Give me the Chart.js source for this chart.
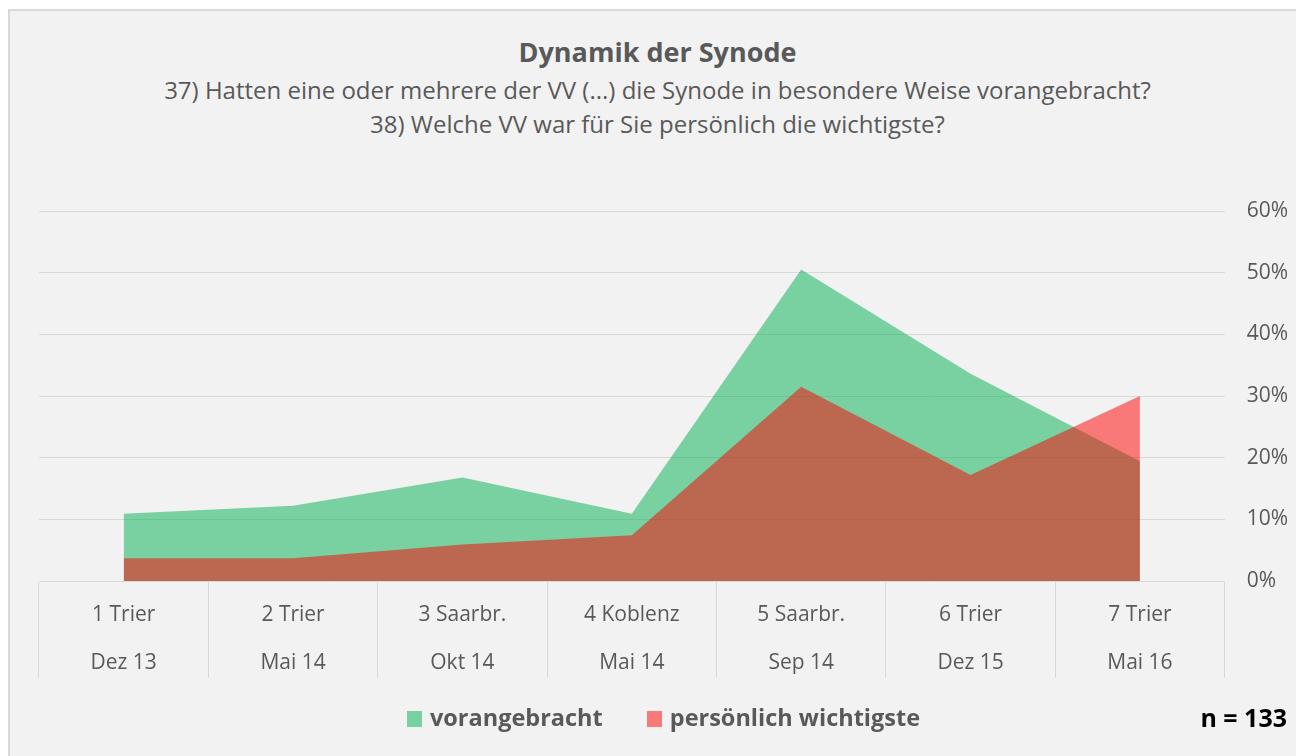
<!DOCTYPE html>
<html>
<head>
<meta charset="utf-8">
<script src="https://cdn.jsdelivr.net/npm/chart.js@4/dist/chart.umd.min.js"></script>
<style>
  html, body { margin: 0; padding: 0; background: #fff; }
  body { width: 1296px; height: 756px; position: relative; overflow: hidden; font-family: "Open Sans", sans-serif; }
  #box { position: absolute; left: 8px; top: 9px; width: 1310px; height: 770px; background: #f2f2f2; border-left: 2px solid #d9d9d9; border-top: 2px solid #d9d9d9; }
  #chartWrap { position: absolute; left: 0; top: 0; width: 1296px; height: 756px; }
  .head { position: absolute; left: 0; width: 1315px; text-align: center; color: #595959; white-space: nowrap; }
  #title { top: 36px; font-size: 27px; line-height: 32px; font-weight: bold; }
  #subtitle { top: 73px; font-size: 24px; line-height: 34px; }
  #legend { position: absolute; top: 701px; left: 0; width: 1265px; padding-left: 31px; text-align: center; font-size: 23.5px; line-height: 32px; font-weight: bold; color: #595959; white-space: nowrap; }
  #legend span.item { display: inline-block; margin: 0 22px; }
  #legend span.sw { display: inline-block; width: 15px; height: 16px; vertical-align: -1px; margin-right: 8px; }
  #n { position: absolute; right: 9px; top: 701px; font-size: 25px; line-height: 32px; font-weight: bold; color: #000; }
</style>
</head>
<body>
<div id="box"></div>
<div id="title" class="head">Dynamik der Synode</div>
<div id="subtitle" class="head">37) Hatten eine oder mehrere der VV (...) die Synode in besondere Weise vorangebracht?<br>38) Welche VV war für Sie persönlich die wichtigste?</div>
<div id="chartWrap"><canvas id="myChart"></canvas></div>
<div id="legend"></div>
<div id="n">n = 133</div>
<script>
const categories = [
    ['1 Trier', 'Dez 13'],
    ['2 Trier', 'Mai 14'],
    ['3 Saarbr.', 'Okt 14'],
    ['4 Koblenz', 'Mai 14'],
    ['5 Saarbr.', 'Sep 14'],
    ['6 Trier', 'Dez 15'],
    ['7 Trier', 'Mai 16']
];
const vorangebracht = [10.9, 12.2, 16.8, 10.9, 50.5, 33.6, 19.4];
const wichtigste = [3.7, 3.7, 5.9, 7.4, 31.5, 17.2, 30.0];
const seriesNames = ['vorangebracht', 'persönlich wichtigste'];
const seriesColors = ['rgba(0,176,80,0.5)', 'rgba(255,0,0,0.5)'];
const yTicks = [0, 10, 20, 30, 40, 50, 60];

// legend as html, same order as in the sheet
const legend = document.getElementById('legend');
seriesNames.forEach((name, i) => {
    const item = document.createElement('span');
    item.className = 'item';
    item.innerHTML = '<span class="sw" style="background:' + seriesColors[i] + '"></span>' + name;
    legend.appendChild(item);
});

const data = {
    labels: categories,
    datasets: [{
        label: seriesNames[0],
        data: vorangebracht,
        backgroundColor: seriesColors[0],
        borderWidth: 0,
        pointRadius: 0,
        fill: 'origin',
        order: 2
    }, {
        label: seriesNames[1],
        data: wichtigste,
        backgroundColor: seriesColors[1],
        borderWidth: 0,
        pointRadius: 0,
        fill: 'origin',
        order: 1
    }]
};

const config = {
    type: 'line',
    data: data,
    options: {
        responsive: false,
        animation: false,
        layout: { padding: { left: 39, right: -14, top: 211, bottom: 146 } },
        plugins: {
            legend: { display: false },
            tooltip: { enabled: false }
        },
        scales: {
            x: {
                offset: true,
                grid: {
                    offset: true,
                    drawOnChartArea: false,
                    color: '#d9d9d9',
                    tickLength: 97
                },
                border: { color: '#d9d9d9' },
                ticks: {
                    color: '#595959',
                    mirror: true,
                    crossAlign: 'far',
                    padding: -34,
                    maxRotation: 0,
                    autoSkip: false,
                    font: { family: 'Open Sans', size: 21, lineHeight: 2.2857 }
                }
            },
            y: {
                position: 'right',
                min: 0,
                max: 60,
                afterBuildTicks: axis => { axis.ticks = yTicks.map(v => ({ value: v })); },
                grid: { color: '#d9d9d9', drawTicks: false },
                border: { display: false },
                ticks: {
                    color: '#595959',
                    padding: 22,
                    font: { family: 'Open Sans', size: 21 },
                    callback: v => v + '%'
                }
            }
        }
    }
};

const canvas = document.getElementById('myChart');
canvas.width = 1296;
canvas.height = 756;
new Chart(canvas, config);
</script>
</body>
</html>
